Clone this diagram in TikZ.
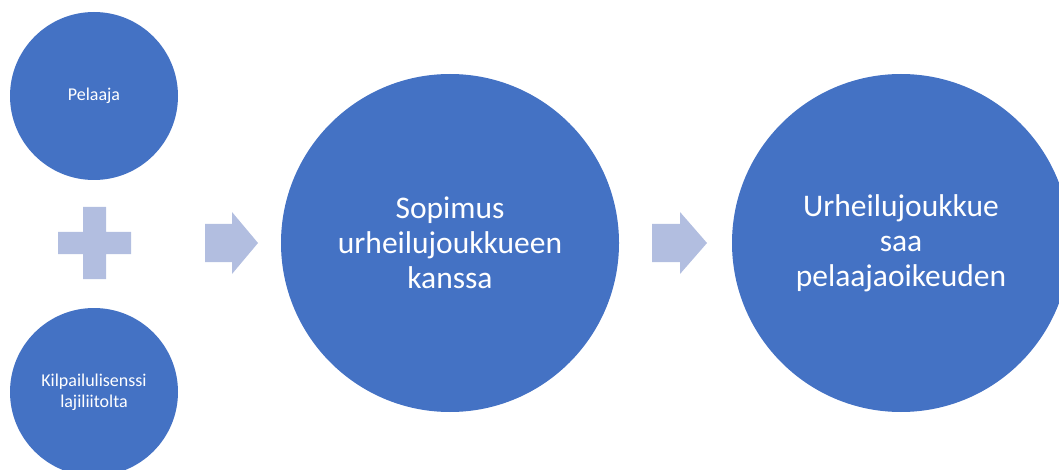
\documentclass[tikz,border=0pt]{standalone}
\usepackage{fontspec}
\setmainfont{Carlito}
\usepackage{tikz}
\usetikzlibrary{positioning}
\tikzset{>=latex}
\definecolor{discblue}{RGB}{68,114,196}
\definecolor{arrowblue}{RGB}{178,190,224}
\tikzset{
        disc/.style={circle, fill=discblue, text=white, align=center, inner sep=0pt},
        smalldisc/.style={disc, minimum size=168pt, font=\fontsize{18}{21}\selectfont},
        bigdisc/.style={disc, minimum size=338pt, font=\fontsize{31.5}{35}\selectfont},
        shapefill/.style={fill=arrowblue}
}

\begin{document}
\begin{tikzpicture}[x=1pt, y=-1pt]
        \useasboundingbox (0,0) rectangle (1059,470);
        \clip (0,0) rectangle (1059,470);

        \node[smalldisc] (pelaaja) at (94,96) {Pelaaja};
        \node[smalldisc] (lisenssi) at (94,392) {Kilpailulisenssi\\lajiliitolta};
        \node[bigdisc] (sopimus) at (450,243) {Sopimus\\urheilujoukkueen\\kanssa};
        \node[bigdisc] (oikeus) at (901,243) {Urheilujoukkue\\saa\\pelaajaoikeuden};

        % plus between the small discs
        \fill[shapefill] (83,207) -- (106,207) -- (106,232) -- (131,232) -- (131,254)
                -- (106,254) -- (106,279) -- (83,279) -- (83,254) -- (58,254)
                -- (58,232) -- (83,232) -- cycle;

        % block arrows
        \fill[shapefill] (205,224) -- (232,224) -- (232,212) -- (258,243) -- (232,274)
                -- (232,262) -- (205,262) -- cycle;
        \fill[shapefill] (652,224) -- (680,224) -- (680,212) -- (707,243) -- (680,274)
                -- (680,262) -- (652,262) -- cycle;
\end{tikzpicture}
\end{document}
